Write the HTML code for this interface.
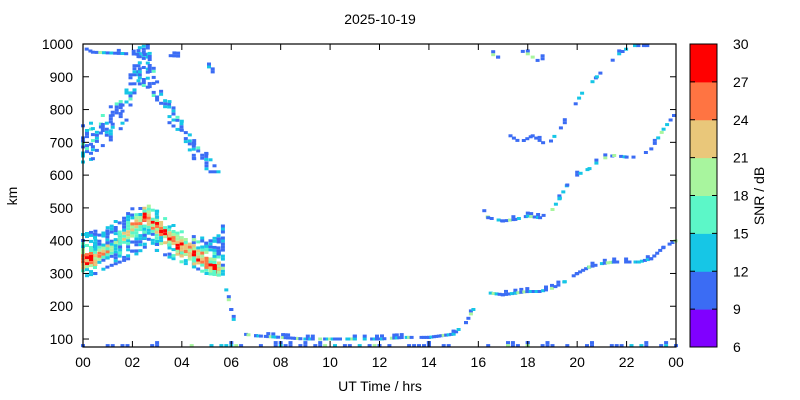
<!DOCTYPE html>
<html><head><meta charset="utf-8"><style>
html,body{margin:0;padding:0;background:#fff}
svg{display:block;font-family:"Liberation Sans",sans-serif}
</style></head><body>
<svg id="c" width="800" height="400" xmlns="http://www.w3.org/2000/svg">
<rect x="0" y="0" width="800" height="400" fill="#fff"/>
<g id="marks"></g>
<g id="axes"></g>
<text x="380" y="24" font-size="14" text-anchor="middle">2025-10-19</text>
<text x="0" y="0" font-size="14" text-anchor="middle" transform="translate(17,196) rotate(-90)">km</text>
<text x="380" y="391" font-size="14" text-anchor="middle">UT Time / hrs</text>
<g id="cbar"></g>
<text x="0" y="0" font-size="14" text-anchor="middle" transform="translate(764,196) rotate(-90)">SNR / dB</text>
</svg>
<script>
// ---- data ----
var xTicks = ["00","02","04","06","08","10","12","14","16","18","20","22","00"];
var yTicks = [100,200,300,400,500,600,700,800,900,1000];
var cbTicks = [6,9,12,15,18,21,24,27,30];
var cbColors = ["#8000ff","#3b6cf4","#16c6e6","#5cf7c8","#a8f59e","#e9c77a","#ff7442","#ff0000"];
// dense night F-layer band
var bandHours = [0.0,0.5,1.0,1.5,2.0,2.5,3.0,3.5,4.0,4.5,5.0,5.5,5.8];
var bandLow   = [290,300,320,335,350,380,370,350,335,320,300,295,300];
var bandHigh  = [420,430,445,470,500,525,490,460,430,420,410,440,460];
var bandCore  = [340,345,370,400,440,475,445,410,380,360,330,310,310];
var bandPeak  = [32,31,26,27,29,32,32,33,33,32,31,32,20];
// upper night band
var upHours = [0.0,0.4,0.8,1.2,1.6,2.3,2.7,3.0,3.5,4.0,4.5,5.0,5.5];
var upLow   = [640,650,690,700,740,860,870,820,760,700,650,610,610];
var upHigh  = [760,760,800,830,850,1000,1000,900,830,780,720,680,640];
// thin traces
var trAh = [16.5,17,17.5,18,18.5,19,19.5,20,20.5,21,21.5,22,22.5,23,23.5,24];
var trAk = [240,235,240,245,245,255,275,300,320,330,335,335,335,345,380,400];
var trBh = [16.1,16.4,17,17.5,18,18.5,19,19.3,19.6,20,20.5,21,21.5,22,22.5,23,23.5,24];
var trBk = [510,470,460,465,475,470,495,530,570,600,620,650,660,655,655,680,740,790];
var trCh = [17.3,17.7,18.2,18.8,19.2,19.5,19.8,20.2,20.8,21.3,21.7,22.2,22.7,23];
var trCk = [720,700,720,690,730,760,800,850,900,940,970,995,995,995];
var trDh = [16.4,16.8,17.2,17.6,18.0,18.4,18.8];
var trDk = [975,960,970,985,970,950,960];
var trEh = [5.8,6.0,6.2,6.5,7,8,9,10,11,12,13,14,15,15.5,15.8];
var trEk = [250,190,130,115,110,105,100,100,100,100,105,105,115,150,190];
var trFh = [0,2,4,6,8,10,12,14,16,18,20,22,24];
var trFk = [80,80,80,80,80,80,80,80,80,80,80,80,80];
var trGh = [0.0,0.4,4.8,5.1,5.3];
var trGk = [990,975,960,930,910];

// ---- scales ----
var X0=83, X1=676, YT=44, YB=347;
function xs(h){return X0+(X1-X0)*h/24;}
function ys(k){return YT+(1000-k)*0.3278;}
function col(s){var i=Math.floor((s-6)/3);if(i<0)i=0;if(i>7)i=7;return cbColors[i];}
var NS="http://www.w3.org/2000/svg";
var marks=document.getElementById('marks');
function cell(h,k,s){
  if(k<77||k>1001||h<0||h>24)return;
  var r=document.createElementNS(NS,'rect');
  r.setAttribute('x',(xs(h)-2).toFixed(1));r.setAttribute('y',(ys(k)-1.5).toFixed(1));
  r.setAttribute('width',4);r.setAttribute('height',3);r.setAttribute('fill',col(s));
  
  
  marks.appendChild(r);
}
function lerp(a,b,t){return a+(b-a)*t;}
function hashv(i,j){var n=(i*73856093)^(j*19349663);n=(n^(n>>>13))*1274126177;return ((n^(n>>>16))>>>0)%100;}
function drawBand(H,L,U,C,P,fill,base){
  for(var i=0;i<H.length-1;i++){
    for(var h=H[i];h<H[i+1];h+=0.162){
      var t=(h-H[i])/(H[i+1]-H[i]);
      var lo=lerp(L[i],L[i+1],t),hi=lerp(U[i],U[i+1],t);
      var c=C?lerp(C[i],C[i+1],t):0,p=P?lerp(P[i],P[i+1],t):0;
      for(var k=lo;k<=hi;k+=9.2){
        var hv=hashv(Math.round(h*100),Math.round(k));
        var edge=Math.min(k-lo,hi-k);
        var d=C?Math.abs(k-c):99;
        if(d>18 && hv>fill-(edge<20?25:0))continue;
        var s=base;
        if(C){s=p-d*0.32-(hv%8)*1.6;if(s<12)s=(hv%3==0)?13:10;}
        else{s=(hv%4==0)?13:(hv%9==0?17:10);}
        cell(h,k,s);
      }
    }
  }
}
drawBand(bandHours,bandLow,bandHigh,bandCore,bandPeak,70,0);
drawBand(upHours,upLow,upHigh,null,null,50,10);
function drawTrace(H,K,step,fill){
  for(var i=0;i<H.length-1;i++){
    for(var h=H[i];h<H[i+1];h+=step){
      var t=(h-H[i])/(H[i+1]-H[i]);var k=lerp(K[i],K[i+1],t);
      var hv=hashv(Math.round(h*100),Math.round(k));
      if(hv>fill)continue;
      var s=hv%4==0?13:(hv%7==0?19:10);
      cell(h,k,s);
      if(hv%5==0)cell(h,k+9,10);
    }
  }
}
drawTrace(trAh,trAk,0.12,85);
drawTrace(trBh,trBk,0.14,70);
drawTrace(trCh,trCk,0.14,65);
drawTrace(trDh,trDk,0.2,50);
drawTrace(trEh,trEk,0.1,70);
drawTrace(trFh,trFk,0.2,40);
drawTrace(trGh,trGk,0.15,50);

// ---- axes ----
var ax=document.getElementById('axes');
function el(tag,attrs,txt){var e=document.createElementNS(NS,tag);for(var a in attrs)e.setAttribute(a,attrs[a]);if(txt!==undefined)e.textContent=txt;return e;}
var fr=el('rect',{x:X0,y:YT,width:X1-X0,height:YB-YT,fill:'none',stroke:'#000','stroke-width':1.2});


ax.appendChild(fr);
xTicks.forEach(function(l,i){
  var x=xs(i*2);
  ax.appendChild(el('line',{x1:x,y1:YB,x2:x,y2:YB-6,stroke:'#000'}));
  ax.appendChild(el('line',{x1:x,y1:YT,x2:x,y2:YT+6,stroke:'#000'}));
  var t=el('text',{x:x,y:YB+20,'font-size':14,'text-anchor':'middle'},l);
  
  
  ax.appendChild(t);
});
yTicks.forEach(function(v){
  var y=ys(v);
  ax.appendChild(el('line',{x1:X0,y1:y,x2:X0+6,y2:y,stroke:'#000'}));
  ax.appendChild(el('line',{x1:X1,y1:y,x2:X1-6,y2:y,stroke:'#000'}));
  var t=el('text',{x:X0-10,y:y+5,'font-size':14,'text-anchor':'end'},String(v));
  
  
  ax.appendChild(t);
});
var cb=document.getElementById('cbar');
var CX=690,CW=27,bh=(YB-YT)/cbColors.length;
cbColors.forEach(function(c,i){
  var r=el('rect',{x:CX,y:YB-(i+1)*bh,width:CW,height:bh+0.5,fill:c});
  
  
  cb.appendChild(r);
});
cb.appendChild(el('rect',{x:CX,y:YT,width:CW,height:YB-YT,fill:'none',stroke:'#000'}));
cbTicks.forEach(function(v,i){
  var y=YB-i*bh;
  cb.appendChild(el('line',{x1:CX,y1:y,x2:CX+5,y2:y,stroke:'#000'}));
  cb.appendChild(el('line',{x1:CX+CW,y1:y,x2:CX+CW-5,y2:y,stroke:'#000'}));
  var t=el('text',{x:733,y:y+5,'font-size':14,'text-anchor':'start'},String(v));
  
  
  cb.appendChild(t);
});
</script>
</body></html>
